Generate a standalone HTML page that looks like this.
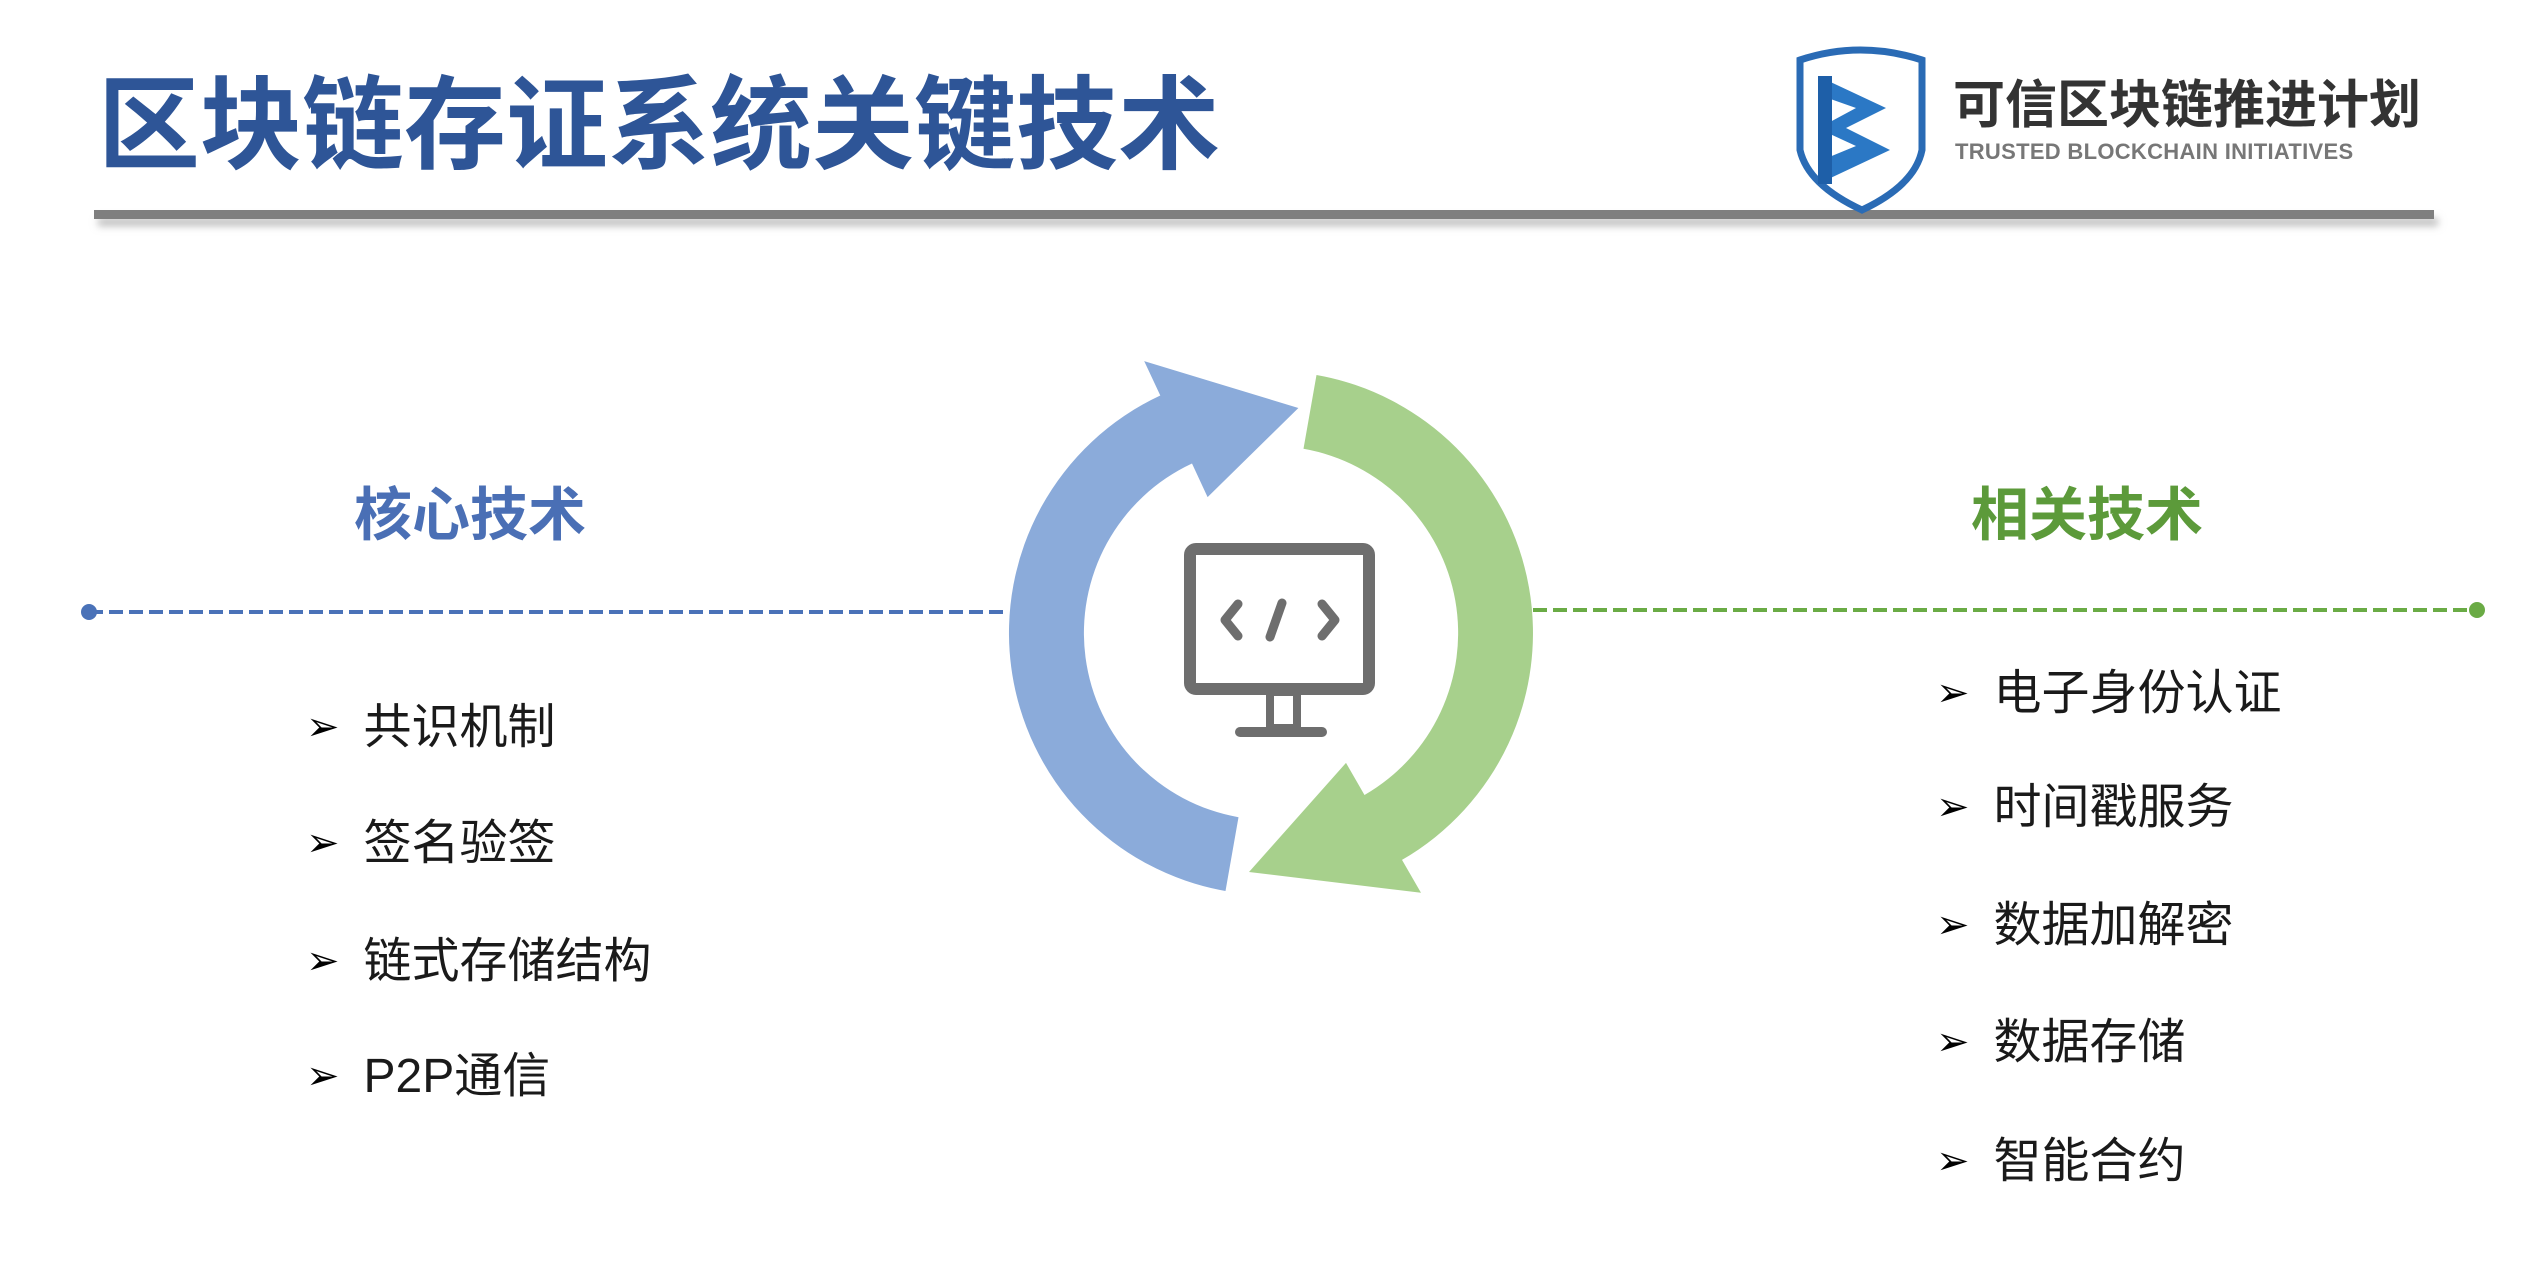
<!DOCTYPE html>
<html><head><meta charset="utf-8"><style>
html,body{margin:0;padding:0;background:#fff;}
body{width:2544px;height:1264px;overflow:hidden;position:relative;font-family:"Liberation Sans","Noto Sans CJK SC",sans-serif;}
.t{position:absolute;white-space:nowrap;line-height:1;}
.item{position:absolute;white-space:nowrap;line-height:1;font-size:48px;color:#1a1a1a;}
.item span{font-family:"DejaVu Sans",sans-serif;font-size:40px;margin-right:24px;position:relative;top:-3px;color:#000;font-weight:bold;}
</style></head><body>
<svg width="2544" height="1264" style="position:absolute;left:0;top:0">
<defs><filter id="sh" x="-5%" y="-200%" width="110%" height="500%"><feGaussianBlur stdDeviation="4"/></filter></defs>
<rect x="98" y="218" width="2340" height="8" fill="#bbb" filter="url(#sh)"/>
<rect x="94" y="210" width="2340" height="9" fill="#7f7f7f"/>
<!-- logo shield -->
<path d="M1800 60 Q1860 40 1922 60 L1922 150 Q1915 185 1862 210 Q1808 185 1800 150 Z" fill="none" stroke="#2a6bb5" stroke-width="7"/>
<path d="M1822 78 L1886 108 L1846 128 L1890 150 L1822 182 L1822 160 L1856 146 L1830 134 L1830 122 L1856 108 L1822 96 Z" fill="#2b78c5"/>
<rect x="1818" y="76" width="14" height="108" fill="#1e5fa8"/>
<!-- dashed lines -->
<line x1="89" y1="612" x2="1006" y2="612" stroke="#4a72b8" stroke-width="4" stroke-dasharray="14 6"/>
<circle cx="89" cy="612" r="8" fill="#4a72b8"/>
<line x1="1533" y1="610" x2="2477" y2="610" stroke="#6aab45" stroke-width="4" stroke-dasharray="14 6"/>
<circle cx="2477" cy="610" r="8" fill="#6aab45"/>
<!-- arrows -->
<path d="M1225.5 891 A262 262 0 0 1 1160.3 395.5 L1144.2 361.1 L1298.4 408 L1207.6 497.1 L1192 463.5 A187 187 0 0 0 1238.5 817.2 Z" fill="#8babda"/>
<path d="M1316.5 375 A262 262 0 0 1 1402 859.9 L1421 892.8 L1249 872 L1346 762.9 L1364.5 795 A187 187 0 0 0 1303.5 448.8 Z" fill="#a7d08c"/>
<!-- monitor -->
<rect x="1190" y="549" width="179" height="140" rx="6" fill="none" stroke="#6e6e6e" stroke-width="12"/>
<rect x="1270" y="692" width="27" height="36" fill="none" stroke="#6e6e6e" stroke-width="8"/>
<line x1="1240" y1="732" x2="1322" y2="732" stroke="#6e6e6e" stroke-width="10" stroke-linecap="round"/>
<polyline points="1238,604 1225,620 1238,636" fill="none" stroke="#6e6e6e" stroke-width="9" stroke-linecap="round" stroke-linejoin="round"/>
<line x1="1282" y1="603" x2="1270" y2="637" stroke="#6e6e6e" stroke-width="9" stroke-linecap="round"/>
<polyline points="1322,604 1335,620 1322,636" fill="none" stroke="#6e6e6e" stroke-width="9" stroke-linecap="round" stroke-linejoin="round"/>
</svg>
<div class="t" style="left:98px;top:75px;font-size:102px;font-weight:bold;color:#2e5597;">区块链存证系统关键技术</div>
<div class="t" style="left:1953px;top:80px;font-size:52px;font-weight:bold;color:#333;">可信区块链推进计划</div>
<div class="t" style="left:1955px;top:141px;font-size:22px;color:#777;font-weight:bold;letter-spacing:0.3px;">TRUSTED BLOCKCHAIN INITIATIVES</div>
<div class="t" style="left:354px;top:487px;font-size:58px;font-weight:bold;color:#4a6fb5;">核心技术</div>
<div class="t" style="left:1971px;top:487px;font-size:58px;font-weight:bold;color:#5c9a3a;">相关技术</div>
<div class="item" style="left:306px;top:704px;"><span>➢</span>共识机制</div>
<div class="item" style="left:306px;top:820px;"><span>➢</span>签名验签</div>
<div class="item" style="left:306px;top:938px;"><span>➢</span>链式存储结构</div>
<div class="item" style="left:306px;top:1053px;"><span>➢</span>P2P通信</div>
<div class="item" style="left:1936px;top:670px;"><span>➢</span>电子身份认证</div>
<div class="item" style="left:1936px;top:784px;"><span>➢</span>时间戳服务</div>
<div class="item" style="left:1936px;top:902px;"><span>➢</span>数据加解密</div>
<div class="item" style="left:1936px;top:1019px;"><span>➢</span>数据存储</div>
<div class="item" style="left:1936px;top:1138px;"><span>➢</span>智能合约</div>
</body></html>
